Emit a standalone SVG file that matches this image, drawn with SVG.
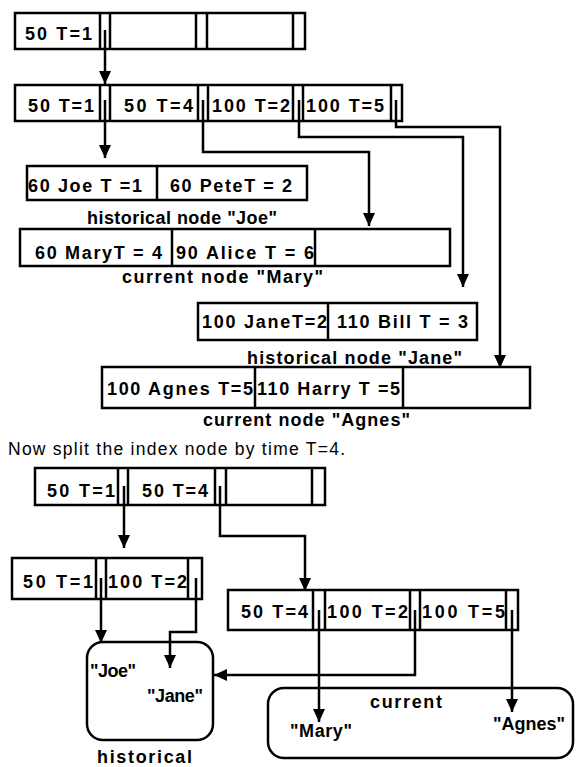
<svg xmlns="http://www.w3.org/2000/svg" width="576" height="767" viewBox="0 0 576 767">
<style>
.box{fill:none;stroke:#000;stroke-width:2.5}
.div{stroke:#000;stroke-width:2.5}
.t{font-family:"Liberation Sans",Arial,sans-serif;font-weight:bold;font-size:18px;fill:#000}
.n{font-family:"Liberation Sans",Arial,sans-serif;font-size:17.5px;fill:#000}
.c{fill:none;stroke:#000;stroke-width:2.5}
</style>
<defs>
<marker id="ah" markerUnits="userSpaceOnUse" markerWidth="14" markerHeight="12" refX="13" refY="6" orient="auto">
<path d="M0,0 L13,6 L0,12 Z" fill="#000"/>
</marker>
</defs>
<rect width="576" height="767" fill="#fff"/>

<g id="index-root">
<rect class="box" x="15" y="13" width="290" height="36"/>
<path class="div" d="M100,13V49M110,13V49M196,13V49M207,13V49M293,13V49"/>
<text class="t" x="25" y="40" textLength="67" lengthAdjust="spacing">50 T=1</text>
</g>

<g id="index-level2">
<rect class="box" x="15" y="85" width="387" height="36"/>
<path class="div" d="M100,85V121M110,85V121M198,85V121M208,85V121M293,85V121M303,85V121M391,85V121"/>
<text class="t" x="28" y="112" textLength="66" lengthAdjust="spacing">50 T=1</text>
<text class="t" x="124" y="112" textLength="69" lengthAdjust="spacing">50 T=4</text>
<text class="t" x="212" y="112" textLength="78" lengthAdjust="spacing">100 T=2</text>
<text class="t" x="306" y="112" textLength="78" lengthAdjust="spacing">100 T=5</text>
</g>

<g id="node-joe">
<rect class="box" x="27" y="166" width="280" height="34"/>
<path class="div" d="M157,166V200"/>
<text class="t" x="28" y="192" textLength="114" lengthAdjust="spacing">60 Joe T =1</text>
<text class="t" x="170" y="192" textLength="122" lengthAdjust="spacing">60 PeteT = 2</text>
<text class="t" x="87" y="224" textLength="190" lengthAdjust="spacing">historical  node "Joe"</text>
</g>

<g id="node-mary">
<rect class="box" x="20" y="229" width="430" height="37"/>
<path class="div" d="M172,229V266M315,229V266"/>
<text class="t" x="35" y="259" textLength="127" lengthAdjust="spacing">60 MaryT = 4</text>
<text class="t" x="176" y="259" textLength="138" lengthAdjust="spacing">90 Alice T = 6</text>
<text class="t" x="122" y="283" textLength="201" lengthAdjust="spacing">current  node  "Mary"</text>
</g>

<g id="node-jane">
<rect class="box" x="198" y="303" width="279" height="37"/>
<path class="div" d="M328,303V340"/>
<text class="t" x="202" y="328" textLength="125" lengthAdjust="spacing">100 JaneT=2</text>
<text class="t" x="337" y="328" textLength="131" lengthAdjust="spacing">110 Bill T = 3</text>
<text class="t" x="247" y="364" textLength="215" lengthAdjust="spacing">historical  node  "Jane"</text>
</g>

<g id="node-agnes">
<rect class="box" x="102" y="367" width="428" height="41"/>
<path class="div" d="M255,367V408M403,367V408"/>
<text class="t" x="107" y="395" textLength="146" lengthAdjust="spacing">100 Agnes  T=5</text>
<text class="t" x="257" y="395" textLength="143" lengthAdjust="spacing">110 Harry T =5</text>
<text class="t" x="203" y="426" textLength="207" lengthAdjust="spacing">current  node "Agnes"</text>
</g>

<text class="n" x="8" y="455" textLength="337" lengthAdjust="spacing">Now split the index node by time T=4.</text>

<g id="split-root">
<rect class="box" x="35" y="468" width="290" height="37"/>
<path class="div" d="M118,468V505M128,468V505M215,468V505M226,468V505M312,468V505"/>
<text class="t" x="47" y="497" textLength="68" lengthAdjust="spacing">50 T=1</text>
<text class="t" x="142" y="497" textLength="66" lengthAdjust="spacing">50 T=4</text>
</g>

<g id="split-historical-index">
<rect class="box" x="12" y="558" width="190" height="41"/>
<path class="div" d="M96,558V599M106,558V599M188,558V599"/>
<text class="t" x="23" y="588" textLength="70" lengthAdjust="spacing">50 T=1</text>
<text class="t" x="108" y="588" textLength="79" lengthAdjust="spacing">100 T=2</text>
</g>

<g id="split-current-index">
<rect class="box" x="228" y="590" width="290" height="40"/>
<path class="div" d="M313,590V630M325,590V630M410,590V630M420,590V630M506,590V630"/>
<text class="t" x="241" y="618" textLength="67" lengthAdjust="spacing">50 T=4</text>
<text class="t" x="327" y="618" textLength="81" lengthAdjust="spacing">100 T=2</text>
<text class="t" x="422" y="618" textLength="83" lengthAdjust="spacing">100 T=5</text>
</g>

<g id="historical-group">
<rect class="box" x="87" y="642" width="126" height="98" rx="16"/>
<text class="t" x="90" y="677" textLength="46" lengthAdjust="spacing">"Joe"</text>
<text class="t" x="147" y="702" textLength="56" lengthAdjust="spacing">"Jane"</text>
<text class="t" x="97" y="763" textLength="95" lengthAdjust="spacing">historical</text>
</g>

<g id="current-group">
<rect class="box" x="268" y="688" width="305" height="70" rx="16"/>
<text class="t" x="370" y="708" textLength="72" lengthAdjust="spacing">current</text>
<text class="t" x="290" y="737" textLength="62" lengthAdjust="spacing">"Mary"</text>
<text class="t" x="493" y="730" textLength="72" lengthAdjust="spacing">"Agnes"</text>
</g>

<g id="connectors">
<path class="c" d="M105,30V84" marker-end="url(#ah)"/>
<path class="c" d="M105,100V158" marker-end="url(#ah)"/>
<path class="c" d="M203,100V152H369V226" marker-end="url(#ah)"/>
<path class="c" d="M299,100V137H463V287" marker-end="url(#ah)"/>
<path class="c" d="M396,100V127H500V368" marker-end="url(#ah)"/>
<path class="c" d="M124,486V548" marker-end="url(#ah)"/>
<path class="c" d="M220,486V536H305V591" marker-end="url(#ah)"/>
<path class="c" d="M101,578V643" marker-end="url(#ah)"/>
<path class="c" d="M196,578V632H170V668" marker-end="url(#ah)"/>
<path class="c" d="M319,610V722" marker-end="url(#ah)"/>
<path class="c" d="M415,610V675H214" marker-end="url(#ah)"/>
<path class="c" d="M512,610V712" marker-end="url(#ah)"/>
</g>
</svg>
